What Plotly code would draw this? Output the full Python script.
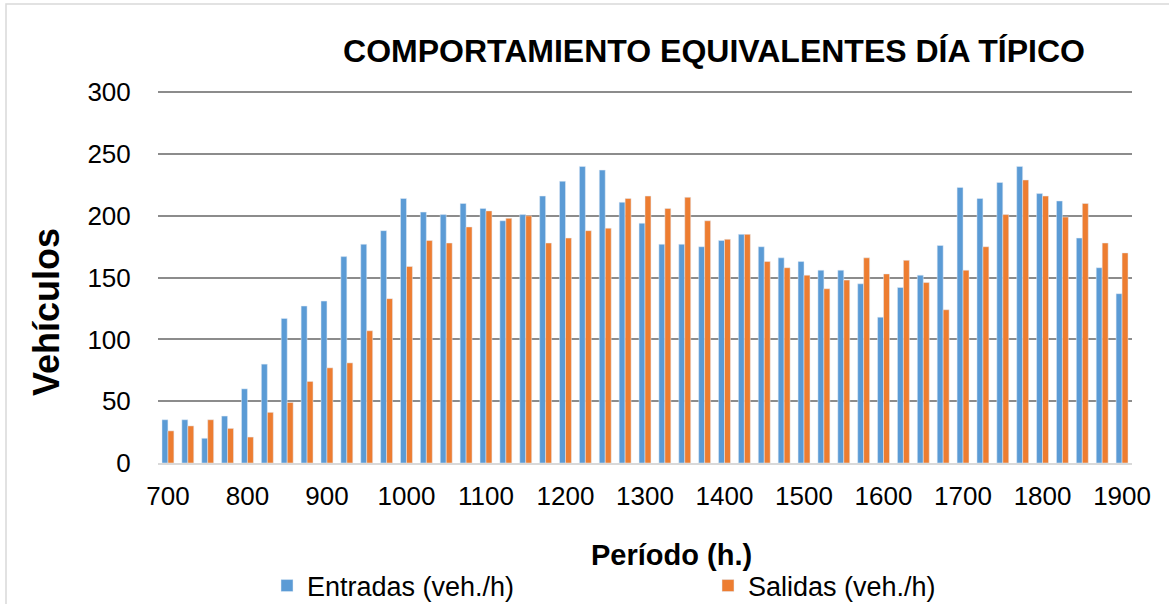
import plotly.graph_objects as go

periodos = ["700", "715", "730", "745", "800", "815", "830", "845", "900", "915", "930", "945",
            "1000", "1015", "1030", "1045", "1100", "1115", "1130", "1145", "1200", "1215", "1230", "1245",
            "1300", "1315", "1330", "1345", "1400", "1415", "1430", "1445", "1500", "1515", "1530", "1545",
            "1600", "1615", "1630", "1645", "1700", "1715", "1730", "1745", "1800", "1815", "1830", "1845",
            "1900"]
entradas = [35, 35, 20, 38, 60, 80, 117, 127, 131, 167, 177, 188,
            214, 203, 201, 210, 206, 196, 201, 216, 228, 240, 237, 211,
            194, 177, 177, 175, 180, 185, 175, 166, 163, 156, 156, 145,
            118, 142, 152, 176, 223, 214, 227, 240, 218, 212, 182, 158,
            137]
salidas = [26, 30, 35, 28, 21, 41, 49, 66, 77, 81, 107, 133,
           159, 180, 178, 191, 204, 198, 200, 178, 182, 188, 190, 214,
           216, 206, 215, 196, 181, 185, 163, 158, 152, 141, 148, 166,
           153, 164, 146, 124, 156, 175, 201, 229, 216, 199, 210, 178,
           170]
tick_labels = ["700", "800", "900", "1000", "1100", "1200", "1300", "1400",
               "1500", "1600", "1700", "1800", "1900"]

FONT = "Liberation Sans, Arial, sans-serif"
W, H = 1169, 604
L, R, T, B = 158, 1132, 91, 463
PW, PH = R - L, B - T

fig = go.Figure()
fig.add_trace(go.Bar(x=periodos, y=entradas, name="Entradas (veh./h)", marker_color="#5B9BD5"))
fig.add_trace(go.Bar(x=periodos, y=salidas, name="Salidas (veh./h)", marker_color="#ED7D31"))

fig.update_layout(
    width=W, height=H,
    margin=dict(l=L, r=W - R, t=T, b=H - B, autoexpand=False),
    paper_bgcolor="white", plot_bgcolor="white",
    font=dict(family=FONT, color="black"),
    barmode="group", bargap=0.4, bargroupgap=0,
    title=dict(text="<b>COMPORTAMIENTO EQUIVALENTES DÍA TÍPICO</b>",
               x=(714 - L) / PW, xref="paper", xanchor="center",
               y=1 - 51 / H, yref="container", yanchor="middle",
               font=dict(size=32, family=FONT, color="black")),
    xaxis=dict(type="category", categoryorder="array", categoryarray=periodos,
               tickmode="array", tickvals=tick_labels, ticktext=tick_labels,
               tickfont=dict(size=26, family=FONT, color="black"),
               ticks="outside", ticklen=9, tickcolor="rgba(0,0,0,0)",
               showgrid=False, showline=True, linecolor="#D9D9D9", linewidth=1.5),
    yaxis=dict(range=[0, 301], tickvals=[0, 50, 100, 150, 200, 250, 300],
               tickfont=dict(size=26, family=FONT, color="black"),
               ticks="outside", ticklen=21, tickcolor="rgba(0,0,0,0)",
               showgrid=True, gridcolor="#8C8C8C", gridwidth=1.5,
               zeroline=False, showline=False),
    legend=dict(orientation="h", xref="container", yref="container",
                x=267 / W, xanchor="left",
                y=1 - 586 / H, yanchor="middle",
                font=dict(size=27, family=FONT, color="black"),
                entrywidth=396, bgcolor="rgba(0,0,0,0)"),
    annotations=[
        dict(text="<b>Vehículos</b>", textangle=-90, xref="paper", yref="paper",
             x=(46 - L) / PW, y=(B - 312) / PH, xanchor="center", yanchor="middle",
             showarrow=False, font=dict(size=36, family=FONT, color="black")),
        dict(text="<b>Período (h.)</b>", xref="paper", yref="paper",
             x=(671 - L) / PW, y=(B - 555) / PH, xanchor="center", yanchor="middle",
             showarrow=False, font=dict(size=29, family=FONT, color="black")),
    ],
    shapes=[
        dict(type="rect", xref="paper", yref="paper",
             x0=(6 - L) / PW, x1=(1180 - L) / PW,
             y0=(B - 620) / PH, y1=(B - 4) / PH,
             line=dict(color="#D9D9D9", width=1.5), fillcolor="rgba(0,0,0,0)", layer="below"),
    ],
)

fig.write_html("out.html", config={"displayModeBar": False},
               post_script="document.body.style.margin='0';document.body.style.overflow='hidden';")
